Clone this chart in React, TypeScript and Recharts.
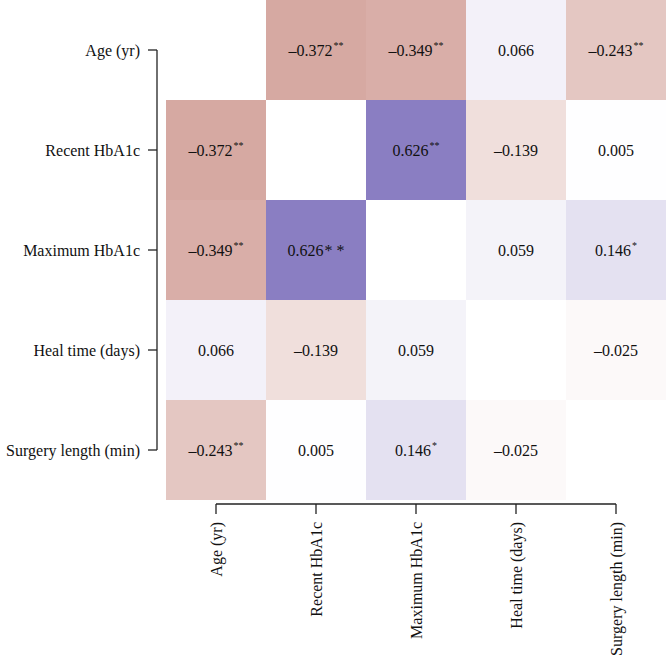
import React from "react";
import {
  ScatterChart,
  Scatter,
  XAxis,
  YAxis,
  ReferenceArea,
  ReferenceLine,
} from "recharts";

const variables = ["Age (yr)", "Recent HbA1c", "Maximum HbA1c", "Heal time (days)", "Surgery length (min)"];

// correlation rows (null on the diagonal)
const ageCorr = [null, -0.372, -0.349, 0.066, -0.243];
const recentCorr = [-0.372, null, 0.626, -0.139, 0.005];
const maximumCorr = [-0.349, 0.626, null, 0.059, 0.146];
const healCorr = [0.066, -0.139, 0.059, null, -0.025];
const surgeryCorr = [-0.243, 0.005, 0.146, -0.025, null];

// significance marks
const ageStars = ["", "**", "**", "", "**"];
const recentStars = ["**", "", "**", "", ""];
const maximumStars = ["**", "* *", "", "", "*"];
const healStars = ["", "", "", "", ""];
const surgeryStars = ["**", "", "*", "", ""];

const corrRows = [ageCorr, recentCorr, maximumCorr, healCorr, surgeryCorr];
const starRows = [ageStars, recentStars, maximumStars, healStars, surgeryStars];

const FONT = "'Liberation Serif', 'Times New Roman', serif";
const NEG = [145, 24, 5];
const POS = [68, 49, 158];

function cellColor(v: number) {
  const end = v < 0 ? NEG : POS;
  const t = Math.min(Math.abs(v), 1);
  const c = end.map((e) => Math.round(255 + (e - 255) * t));
  return `rgb(${c[0]},${c[1]},${c[2]})`;
}

function fmt(v: number) {
  const s = Math.abs(v).toFixed(3);
  return v < 0 ? "\u2013" + s : s;
}

const cells: { x: number; y: number; value: number; stars: string }[] = [];
corrRows.forEach((row, i) =>
  row.forEach((v, j) => {
    if (v !== null) cells.push({ x: j, y: i, value: v, stars: starRows[i][j] });
  })
);

// small gap between the heatmap and the axis lines, in category units
const gapX = 0.09;
const gapY = 0.04;
const xDomain: [number, number] = [-0.5 - gapX, variables.length - 0.5];
const yDomain: [number, number] = [-0.5, variables.length - 0.5 + gapY];
const idx = variables.map((_, i) => i);

const CellLabel = (props: any) => {
  const { cx, cy, payload } = props;
  const big = payload.stars.includes(" ");
  return (
    <text x={cx} y={cy} textAnchor="middle" dominantBaseline="central" fontFamily={FONT} fontSize={16} fill="#111">
      <tspan>{fmt(payload.value)}</tspan>
      {payload.stars && (
        <tspan fontSize={big ? 16 : 10} dy={big ? 0 : -5} dx={1}>
          {payload.stars}
        </tspan>
      )}
    </text>
  );
};

const XTick = (props: any) => {
  const { x, y, payload } = props;
  return (
    <text
      x={x}
      y={y}
      transform={`rotate(-90 ${x} ${y})`}
      textAnchor="end"
      dy="0.35em"
      fontFamily={FONT}
      fontSize={16}
      fill="#111"
    >
      {variables[payload.value]}
    </text>
  );
};

export default function App() {
  return (
    <div style={{ position: "absolute", left: 0, top: 0, background: "#fff" }}>
      <ScatterChart width={666} height={661} margin={{ top: 0, right: 0, left: 0, bottom: 0 }}>
        <XAxis
          type="number"
          dataKey="x"
          domain={xDomain}
          ticks={idx}
          interval={0}
          axisLine={false}
          tickLine={{ stroke: "#222", strokeWidth: 1.3 }}
          tickSize={10}
          tickMargin={8}
          height={157}
          tick={<XTick />}
          allowDataOverflow
        />
        <YAxis
          type="number"
          dataKey="y"
          domain={yDomain}
          reversed
          ticks={idx}
          interval={0}
          axisLine={false}
          tickLine={{ stroke: "#222", strokeWidth: 1.3 }}
          tickSize={9}
          tickMargin={8}
          width={157}
          tickFormatter={(i: number) => variables[i]}
          tick={{ fontFamily: FONT, fontSize: 16, fill: "#111" }}
          allowDataOverflow
        />
        {cells.map((c) => (
          <ReferenceArea
            key={`${c.x}-${c.y}`}
            x1={c.x - 0.5}
            x2={c.x + 0.5}
            y1={c.y - 0.5}
            y2={c.y + 0.5}
            fill={cellColor(c.value)}
            fillOpacity={1}
            stroke="none"
            ifOverflow="visible"
          />
        ))}
        <ReferenceLine
          segment={[{ x: xDomain[0], y: 0 }, { x: xDomain[0], y: variables.length - 1 }]}
          stroke="#222"
          strokeWidth={1.3}
          ifOverflow="visible"
        />
        <ReferenceLine
          segment={[{ x: 0, y: yDomain[1] }, { x: variables.length - 1, y: yDomain[1] }]}
          stroke="#222"
          strokeWidth={1.3}
          ifOverflow="visible"
        />
        <Scatter data={cells} shape={<CellLabel />} isAnimationActive={false} />
      </ScatterChart>
    </div>
  );
}
